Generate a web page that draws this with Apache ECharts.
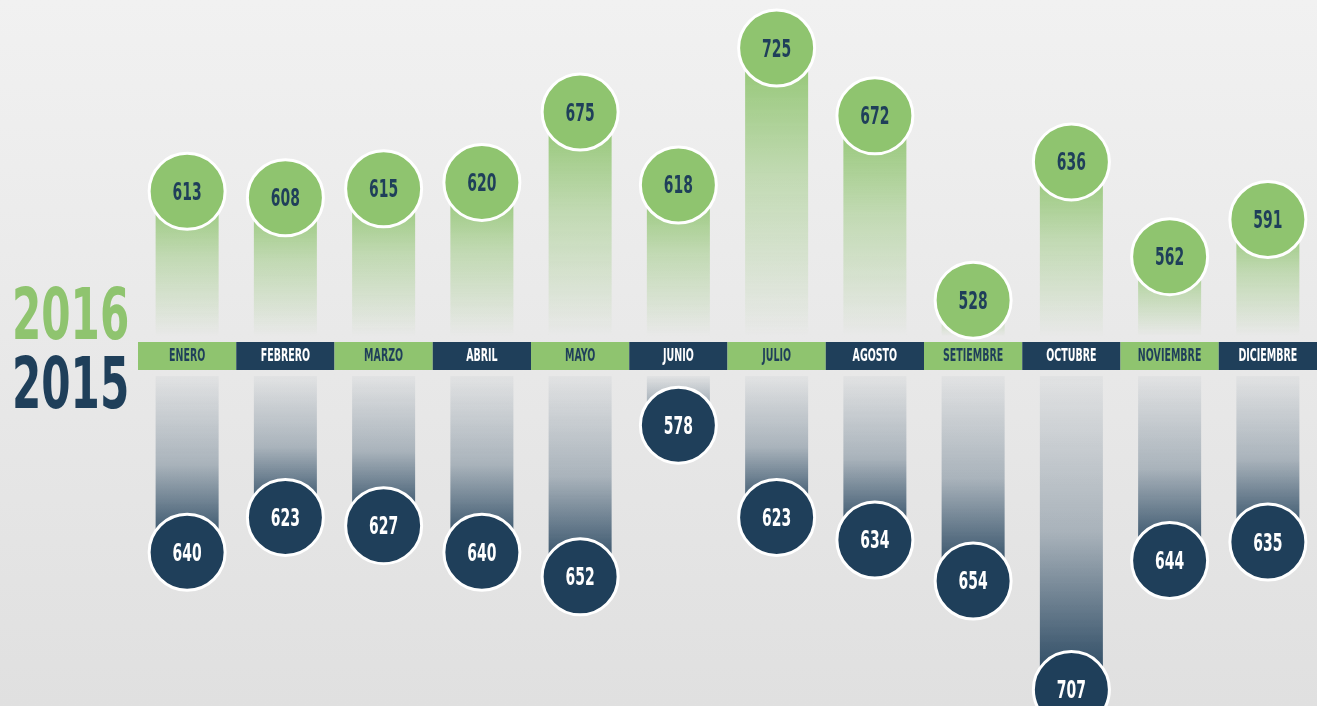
<!DOCTYPE html>
<html>
<head>
<meta charset="utf-8">
<title>Ventas 2016 vs 2015</title>
<script src="https://cdn.jsdelivr.net/npm/echarts@6/dist/echarts.min.js"></script>
<style>
    html, body { margin: 0; padding: 0; }
    body { background: linear-gradient(#f1f1f1, #e0e0e0); }
    #main { width: 1317px; height: 706px; }
</style>
</head>
<body>
<div id="main"></div>
<script>
// datos
const meses = ['ENERO', 'FEBRERO', 'MARZO', 'ABRIL', 'MAYO', 'JUNIO', 'JULIO', 'AGOSTO', 'SETIEMBRE', 'OCTUBRE', 'NOVIEMBRE', 'DICIEMBRE'];
const ventas2016 = [613, 608, 615, 620, 675, 618, 725, 672, 528, 636, 562, 591];
const ventas2015 = [640, 623, 627, 640, 652, 578, 623, 634, 654, 707, 644, 635];
const anios = ['2016', '2015'];

const verde = '#8fc46f', azul = '#1f3f5a';
const fuente = "'DejaVu Sans Condensed', 'Liberation Sans Narrow', sans-serif";

var chart = echarts.init(document.getElementById('main'));

// circulo con el valor (texto angosto)
const burbuja = function (relleno, colorTexto) {
    return function (params, api) {
        var p = api.coord([api.value(0), api.value(1)]);
        return {
            type: 'group',
            children: [
                {
                    type: 'circle',
                    shape: { cx: p[0], cy: p[1], r: 38 },
                    style: { fill: relleno, stroke: '#ffffff', lineWidth: 3 }
                },
                {
                    type: 'text', x: p[0], y: p[1] + 2, scaleX: 0.62,
                    style: {
                        text: String(api.value(1)), fill: colorTexto,
                        fontSize: 25, fontWeight: 'bold', fontFamily: fuente,
                        align: 'center', verticalAlign: 'middle'
                    }
                }
            ]
        };
    };
};

var option = {
    animation: false,
    textStyle: { fontFamily: fuente },
    graphic: [
        {
            type: 'text', x: 12, y: 320, scaleX: 0.65,
            style: { text: anios[0], fill: verde, fontSize: 72, fontWeight: 'bold', fontFamily: fuente, verticalAlign: 'middle' }
        },
        {
            type: 'text', x: 12, y: 389, scaleX: 0.65,
            style: { text: anios[1], fill: azul, fontSize: 72, fontWeight: 'bold', fontFamily: fuente, verticalAlign: 'middle' }
        }
    ],
    grid: [
        { left: 138, right: 0, top: 0, height: 336 },   // 2016 arriba
        { left: 138, right: 0, top: 342, height: 28 },  // franja de meses
        { left: 138, right: 0, top: 376, height: 330 }  // 2015 abajo
    ],
    xAxis: [
        { gridIndex: 0, type: 'category', data: meses, show: false },
        {
            gridIndex: 1, type: 'category', data: meses,
            axisLine: { show: false },
            axisTick: { show: false },
            axisLabel: { show: false },
            splitArea: {
                show: true, interval: 0,
                areaStyle: { color: [verde, azul], opacity: 1 }
            }
        },
        { gridIndex: 2, type: 'category', data: meses, show: false }
    ],
    yAxis: [
        { gridIndex: 0, type: 'value', min: 500, max: 762.5, show: false },
        { gridIndex: 1, type: 'value', min: 0, max: 1, show: false },
        { gridIndex: 2, type: 'value', min: 554, max: 715, inverse: true, show: false }
    ],
    series: [
        {
            name: '2016', type: 'bar', xAxisIndex: 0, yAxisIndex: 0,
            data: ventas2016, barWidth: 63, silent: true, z: 2,
            itemStyle: {
                color: {
                    type: 'linear', x: 0, y: 0, x2: 0, y2: 1,
                    colorStops: [
                        { offset: 0, color: 'rgba(143,196,111,1)' },
                        { offset: 0.45, color: 'rgba(143,196,111,0.45)' },
                        { offset: 1, color: 'rgba(143,196,111,0)' }
                    ]
                }
            }
        },
        {
            name: '2016', type: 'custom', xAxisIndex: 0, yAxisIndex: 0, z: 3, silent: true,
            data: ventas2016.map(function (v, i) { return [i, v]; }),
            renderItem: burbuja(verde, azul)
        },
        {
            name: 'meses', type: 'custom', xAxisIndex: 1, yAxisIndex: 1, z: 3, silent: true,
            data: meses.map(function (m, i) { return [i, 0.5]; }),
            renderItem: function (params, api) {
                var p = api.coord([api.value(0), api.value(1)]);
                var i = params.dataIndex;
                return {
                    type: 'text', x: p[0], y: p[1] + 1, scaleX: 0.62,
                    style: {
                        text: meses[i], fill: i % 2 ? '#ffffff' : azul,
                        fontSize: 17, fontWeight: 'bold', fontFamily: fuente,
                        align: 'center', verticalAlign: 'middle'
                    }
                };
            }
        },
        {
            name: '2015', type: 'bar', xAxisIndex: 2, yAxisIndex: 2,
            data: ventas2015, barWidth: 63, silent: true, z: 2,
            itemStyle: {
                color: {
                    type: 'linear', x: 0, y: 0, x2: 0, y2: 1,
                    colorStops: [
                        { offset: 0, color: 'rgba(31,63,90,0.03)' },
                        { offset: 0.5, color: 'rgba(31,63,90,0.3)' },
                        { offset: 1, color: 'rgba(31,63,90,1)' }
                    ]
                }
            }
        },
        {
            name: '2015', type: 'custom', xAxisIndex: 2, yAxisIndex: 2, z: 3, silent: true,
            data: ventas2015.map(function (v, i) { return [i, v]; }),
            renderItem: burbuja(azul, '#ffffff')
        }
    ]
};

chart.setOption(option);
</script>
</body>
</html>
